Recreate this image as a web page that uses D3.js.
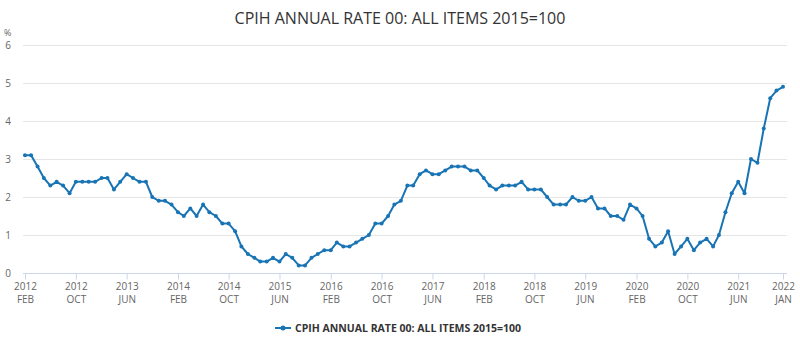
<!DOCTYPE html>
<html>
<head>
<meta charset="utf-8">
<script src="https://cdn.jsdelivr.net/npm/d3@7"></script>
<style>
  body { margin: 0; background: #fff; font-family: "Open Sans", sans-serif; }
  svg text { font-family: "Open Sans", sans-serif; }
</style>
</head>
<body>
<svg id="chart" width="800" height="342"></svg>
<script>
///// *** DATA *** /////
var title = 'CPIH ANNUAL RATE 00: ALL ITEMS 2015=100',
    seriesName = 'CPIH ANNUAL RATE 00: ALL ITEMS 2015=100',
    startMonth = new Date(2012, 1, 1), // FEB 2012
    // annual rate, %, one value per month from 2012 FEB to 2022 JAN
    rate2012 = [3.1, 3.1, 2.8, 2.5, 2.3, 2.4, 2.3, 2.1, 2.4, 2.4, 2.4],
    rate2013 = [2.4, 2.5, 2.5, 2.2, 2.4, 2.6, 2.5, 2.4, 2.4, 2.0, 1.9, 1.9],
    rate2014 = [1.8, 1.6, 1.5, 1.7, 1.5, 1.8, 1.6, 1.5, 1.3, 1.3, 1.1, 0.7],
    rate2015 = [0.5, 0.4, 0.3, 0.3, 0.4, 0.3, 0.5, 0.4, 0.2, 0.2, 0.4, 0.5],
    rate2016 = [0.6, 0.6, 0.8, 0.7, 0.7, 0.8, 0.9, 1.0, 1.3, 1.3, 1.5, 1.8],
    rate2017 = [1.9, 2.3, 2.3, 2.6, 2.7, 2.6, 2.6, 2.7, 2.8, 2.8, 2.8, 2.7],
    rate2018 = [2.7, 2.5, 2.3, 2.2, 2.3, 2.3, 2.3, 2.4, 2.2, 2.2, 2.2, 2.0],
    rate2019 = [1.8, 1.8, 1.8, 2.0, 1.9, 1.9, 2.0, 1.7, 1.7, 1.5, 1.5, 1.4],
    rate2020 = [1.8, 1.7, 1.5, 0.9, 0.7, 0.8, 1.1, 0.5, 0.7, 0.9, 0.6, 0.8],
    rate2021 = [0.9, 0.7, 1.0, 1.6, 2.1, 2.4, 2.1, 3.0, 2.9, 3.8, 4.6, 4.8],
    rate2022 = [4.9],
    yTicks = [0, 1, 2, 3, 4, 5, 6],
    xTickLabels = ['2012 FEB', '2012 OCT', '2013 JUN', '2014 FEB', '2014 OCT', '2015 JUN',
                   '2016 FEB', '2016 OCT', '2017 JUN', '2018 FEB', '2018 OCT', '2019 JUN',
                   '2020 FEB', '2020 OCT', '2021 JUN', '2022 JAN'];

var lineColor = '#1874b4',
    gridColor = '#e6e6e6',
    axisColor = '#ccd6eb',
    labelColor = '#666666';

var values = [].concat(rate2012, rate2013, rate2014, rate2015, rate2016, rate2017,
                       rate2018, rate2019, rate2020, rate2021, rate2022);
var fmt = d3.timeFormat('%Y %b');
var data = values.map(function(v, i) {
  var d = d3.timeMonth.offset(startMonth, i);
  return { date: d, key: fmt(d).toUpperCase(), value: v };
});

///// *** SCALES *** /////
var svg = d3.select('#chart');
var x = d3.scaleTime()
    .domain(d3.extent(data, function(d) { return d.date; }))
    .range([25, 783]);
var y = d3.scaleLinear().domain([0, 6]).range([273, 45]);

///// *** TITLE *** /////
svg.append('text')
  .attr('x', 400).attr('y', 24)
  .attr('text-anchor', 'middle')
  .attr('font-size', 16)
  .attr('fill', '#333333')
  .text(title);

svg.append('text')
  .attr('x', 4).attr('y', 36)
  .attr('font-size', 9)
  .attr('fill', labelColor)
  .text('%');

///// *** GRID + Y AXIS *** /////
svg.append('g')
  .selectAll('line')
  .data(yTicks.filter(function(t) { return t > 0; }))
  .enter().append('line')
  .attr('x1', 23).attr('x2', 787)
  .attr('y1', function(d) { return y(d) + 0.5; })
  .attr('y2', function(d) { return y(d) + 0.5; })
  .attr('stroke', gridColor);

var yAxis = svg.append('g')
  .attr('transform', 'translate(11,0)')
  .call(d3.axisLeft(y).tickValues(yTicks).tickFormat(d3.format('d')).tickSize(0).tickPadding(0));
yAxis.select('.domain').remove();
yAxis.selectAll('text')
  .attr('font-size', 10)
  .attr('fill', labelColor);

///// *** X AXIS *** /////
var tickData = data.filter(function(d) { return xTickLabels.indexOf(d.key) >= 0; });

var xAxis = svg.append('g')
  .attr('transform', 'translate(0,273.5)')
  .call(d3.axisBottom(x)
    .tickValues(tickData.map(function(d) { return d.date; }))
    .tickSize(6)
    .tickFormat(''));
xAxis.select('.domain').remove();
xAxis.selectAll('.tick line').attr('stroke', axisColor);
xAxis.append('line')
  .attr('x1', 23).attr('x2', 787)
  .attr('stroke', axisColor);

var tickLabel = xAxis.selectAll('.tick')
  .append('text')
  .attr('text-anchor', 'middle')
  .attr('fill', labelColor)
  .attr('font-size', 10);
tickLabel.append('tspan')
  .attr('x', 0).attr('y', 16)
  .text(function(d) { return d.getFullYear(); });
tickLabel.append('tspan')
  .attr('x', 0).attr('y', 29)
  .text(function(d) { return d3.timeFormat('%b')(d).toUpperCase(); });

///// *** SERIES *** /////
var line = d3.line()
  .x(function(d) { return x(d.date); })
  .y(function(d) { return y(d.value); });

svg.append('path')
  .datum(data)
  .attr('fill', 'none')
  .attr('stroke', lineColor)
  .attr('stroke-width', 2)
  .attr('stroke-linejoin', 'round')
  .attr('d', line);

svg.append('g')
  .selectAll('circle')
  .data(data)
  .enter().append('circle')
  .attr('cx', function(d) { return x(d.date); })
  .attr('cy', function(d) { return y(d.value); })
  .attr('r', 2)
  .attr('fill', lineColor);

///// *** LEGEND *** /////
var legend = svg.append('g').attr('transform', 'translate(275,332)');
legend.append('line')
  .attr('x1', 0).attr('x2', 16)
  .attr('y1', -4).attr('y2', -4)
  .attr('stroke', lineColor)
  .attr('stroke-width', 2);
legend.append('circle')
  .attr('cx', 8).attr('cy', -4).attr('r', 2.5)
  .attr('fill', lineColor);
legend.append('text')
  .attr('x', 20).attr('y', 0)
  .attr('font-size', 10.5)
  .attr('font-weight', 'bold')
  .attr('fill', '#333333')
  .text(seriesName);
</script>
</body>
</html>
